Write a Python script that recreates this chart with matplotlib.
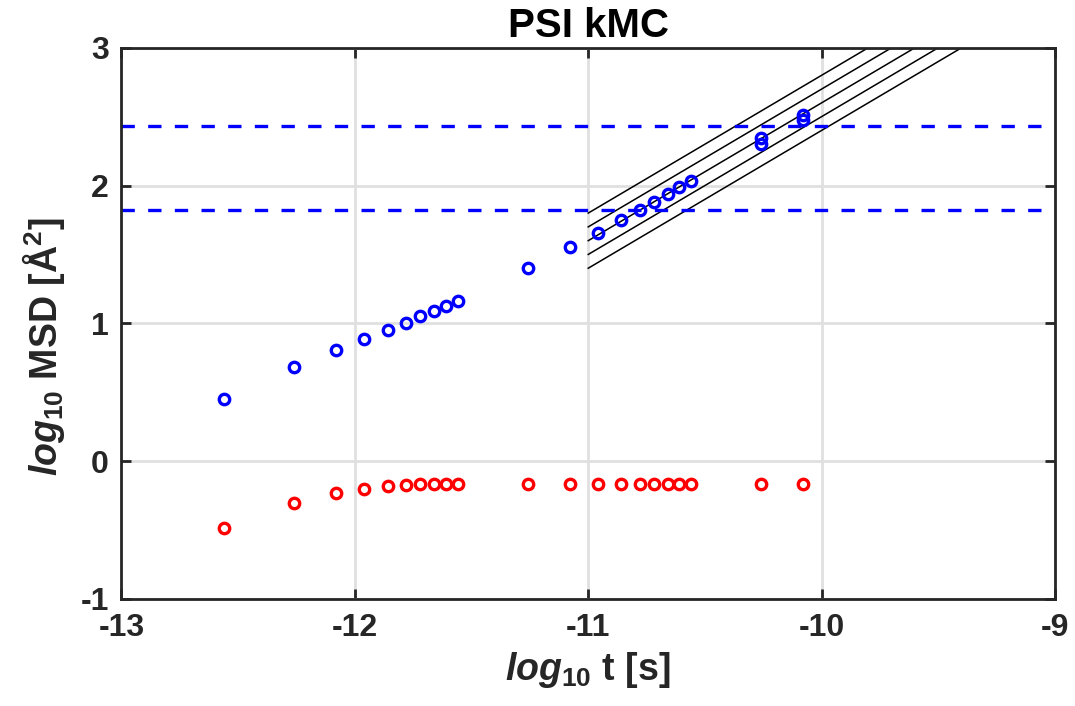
import matplotlib
matplotlib.use('Agg')
import matplotlib.pyplot as plt
import numpy as np

# log10 of time [s]
log_t = [-12.56, -12.26, -12.08, -11.96, -11.86, -11.78, -11.72, -11.66, -11.61, -11.56,
         -11.26, -11.08, -10.96, -10.86, -10.78, -10.72, -10.66, -10.61, -10.56,
         -10.26, -10.08]

# log10 MSD, mobile species (blue) and trapped species (red)
msd_blue = [0.449, 0.681, 0.805, 0.887, 0.952, 1.003, 1.052, 1.090, 1.128, 1.163,
            1.402, 1.554, 1.658, 1.748, 1.821, 1.879, 1.939, 1.990, 2.031,
            2.345, 2.510]
msd_red = [-0.487, -0.306, -0.233, -0.202, -0.180, -0.173, -0.168, -0.168, -0.168, -0.168,
           -0.166, -0.166, -0.166, -0.166, -0.166, -0.166, -0.166, -0.166, -0.166,
           -0.166, -0.166]

# second run at the two longest times
log_t_extra = [-10.26, -10.08]
msd_extra = [2.305, 2.475]

# horizontal reference levels
ref_levels = [2.43, 1.826]

# slope-1 diffusive lines: log10 MSD = log10 t + offset
line_offsets = [12.4, 12.5, 12.6, 12.7, 12.8]
line_t = [-11, -9]

plt.rcParams['font.family'] = 'Liberation Sans'
plt.rcParams['font.weight'] = 'bold'
plt.rcParams['axes.unicode_minus'] = False
plt.rcParams['mathtext.fontset'] = 'custom'
plt.rcParams['mathtext.rm'] = 'Liberation Sans:bold'
plt.rcParams['mathtext.it'] = 'Liberation Sans:italic:bold'
plt.rcParams['mathtext.bf'] = 'Liberation Sans:bold'

fig = plt.figure(figsize=(10.75, 7.06), dpi=100)
ax = fig.add_axes([0.113, 0.1516, 0.8684, 0.7808])

frame = '#262626'

for c in line_offsets:
    ax.plot(line_t, [t + c for t in line_t], color='black', lw=1.1, zorder=2)

for lvl in ref_levels:
    ax.axhline(lvl, color='blue', lw=2.4, linestyle=(0, (4, 4)), zorder=2)

mk = dict(linestyle='none', marker='o', markersize=7.5, markeredgewidth=2.4,
          markerfacecolor='none', zorder=3)
ax.plot(log_t, msd_blue, markeredgecolor='blue', **mk)
ax.plot(log_t_extra, msd_extra, markeredgecolor='blue', **mk)
ax.plot(log_t, msd_red, markeredgecolor='red', **mk)

ax.set_xlim(-13, -9)
ax.set_ylim(-1, 3)
ax.set_xticks([-13, -12, -11, -10, -9])
ax.set_yticks([-1, 0, 1, 2, 3])

ax.grid(True, color='#e0e0e0', lw=2)
ax.set_axisbelow(True)
for s in ax.spines.values():
    s.set_color(frame)
    s.set_linewidth(2)
ax.tick_params(direction='in', length=7.5, width=2, colors=frame, labelsize=23,
               top=True, right=True)
ax.tick_params(axis='x', pad=10)
ax.tick_params(axis='y', pad=9)

ax.set_title('PSI kMC', fontsize=29, fontweight='bold', pad=8)
ax.set_xlabel(r'$\mathit{log}_{\mathit{10}}$ t [s]', fontsize=27, fontweight='bold',
              color=frame, labelpad=5)
ax.set_ylabel(r'$\mathit{log}_{\mathit{10}}$ MSD [Å$^{\mathrm{2}}$]', fontsize=27,
              fontweight='bold', color=frame)
ax.yaxis.set_label_coords(-0.058, 0.457)

fig.savefig('out.png', dpi=100)
